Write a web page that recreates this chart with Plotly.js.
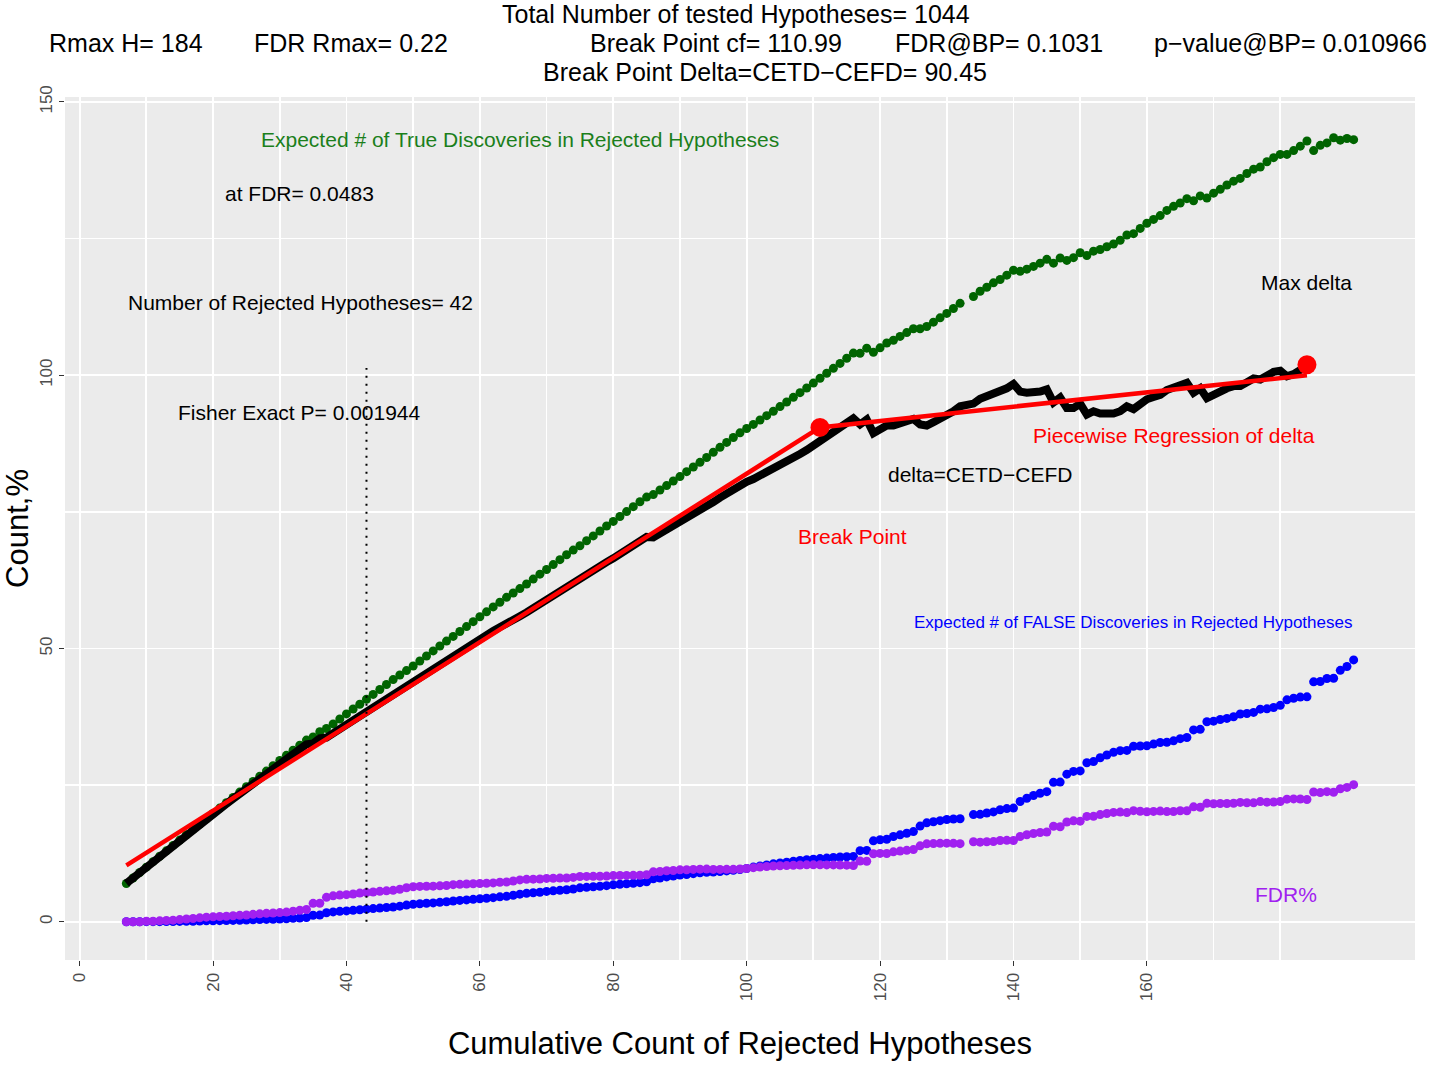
<!DOCTYPE html>
<html><head><meta charset="utf-8">
<script src="https://cdn.plot.ly/plotly-3.0.1.min.js"></script>
<style>html,body{margin:0;padding:0;background:#fff}</style>
</head><body><div id="chart" style="width:1429px;height:1065px"></div>
<script>
// Cumulative count of rejected hypotheses (x = 133 is absent in the source)
const rejectedCount = [
  7,8,9,10,11,12,13,14,15,16,17,18,19,20,21,22,23,24,25,26,
  27,28,29,30,31,32,33,34,35,36,37,38,39,40,41,42,43,44,45,46,
  47,48,49,50,51,52,53,54,55,56,57,58,59,60,61,62,63,64,65,66,
  67,68,69,70,71,72,73,74,75,76,77,78,79,80,81,82,83,84,85,86,
  87,88,89,90,91,92,93,94,95,96,97,98,99,100,101,102,103,104,105,106,
  107,108,109,110,111,112,113,114,115,116,117,118,119,120,121,122,123,124,125,126,
  127,128,129,130,131,132,134,135,136,137,138,139,140,141,142,143,144,145,146,147,
  148,149,150,151,152,153,154,155,156,157,158,159,160,161,162,163,164,165,166,167,
  168,169,170,171,172,173,174,175,176,177,178,179,180,181,182,183,184,185,186,187,
  188,189,190,191
];
// Expected # of true discoveries (CETD), green
const trueDisc = [
  7.0,8.0,9.0,9.99,10.99,11.98,12.97,13.96,14.94,15.92,
  16.9,17.87,18.84,19.82,20.8,21.78,22.75,23.72,24.69,25.65,
  26.61,27.57,28.54,29.5,30.45,31.38,32.31,33.24,33.82,34.78,
  35.35,36.2,37.1,38.02,38.92,39.8,40.7,41.6,42.5,43.4,
  44.3,45.15,45.95,46.8,47.7,48.62,49.55,50.45,51.35,52.2,
  53.1,54.0,54.9,55.8,56.7,57.6,58.45,59.35,60.15,60.95,
  61.8,62.7,63.6,64.45,65.35,66.25,67.15,68.0,68.8,69.7,
  70.6,71.5,72.4,73.25,74.15,75.05,75.95,76.85,77.7,78.15,
  79.0,79.8,80.65,81.45,82.35,83.2,84.05,84.95,85.9,86.8,
  87.7,88.6,89.45,90.25,91.0,91.8,92.6,93.4,94.25,95.1,
  95.95,96.8,97.65,98.55,99.45,100.35,101.25,102.15,103.1,104.05,
  104.0,104.95,104.2,105.0,105.9,106.4,107.1,107.8,108.5,108.5,
  108.9,109.7,110.5,111.3,112.2,113.15,
  114.4,115.35,116.1,116.9,117.5,118.3,119.2,119.0,119.4,119.9,
  120.5,121.2,120.5,121.45,121.0,121.5,122.4,121.9,122.7,123.0,
  123.5,124.0,124.7,125.65,125.9,126.85,127.8,128.5,129.2,130.15,
  130.9,131.5,132.3,131.9,132.8,132.4,133.3,134.0,134.8,135.5,
  136.0,136.9,137.7,138.1,139.05,139.8,140.4,140.4,141.1,141.9,
  142.85,141.1,142.05,142.5,143.45,143.0,143.3,143.1
];
// Expected # of false discoveries (CEFD), blue
const falseDisc = [
  0,0,0,0.01,0.01,0.02,0.03,0.04,0.06,0.08,
  0.10,0.13,0.16,0.18,0.20,0.22,0.25,0.28,0.31,0.35,
  0.39,0.43,0.46,0.50,0.55,0.62,0.69,0.76,1.18,1.22,
  1.65,1.80,1.90,1.98,2.08,2.20,2.30,2.40,2.50,2.60,
  2.70,2.85,3.05,3.20,3.30,3.38,3.45,3.55,3.65,3.80,
  3.90,4.00,4.10,4.20,4.30,4.40,4.55,4.65,4.85,5.05,
  5.20,5.30,5.40,5.55,5.65,5.75,5.85,6.00,6.20,6.30,
  6.40,6.50,6.60,6.75,6.85,6.95,7.05,7.15,7.30,7.85,
  8.00,8.20,8.35,8.55,8.65,8.80,8.95,9.05,9.10,9.20,
  9.30,9.40,9.55,9.75,10.00,10.20,10.40,10.60,10.75,10.90,
  11.05,11.20,11.35,11.45,11.55,11.65,11.75,11.85,11.90,11.95,
  13.00,13.05,14.80,15.00,15.10,15.60,15.90,16.20,16.50,17.50,
  18.10,18.30,18.50,18.70,18.80,18.85,
  19.60,19.65,19.90,20.10,20.50,20.70,20.80,22.00,22.60,23.10,
  23.50,23.80,25.50,25.55,27.00,27.50,27.60,29.10,29.30,30.00,
  30.50,31.00,31.30,31.35,32.10,32.15,32.20,32.50,32.80,32.85,
  33.10,33.50,33.70,35.10,35.20,36.60,36.70,37.00,37.20,37.50,
  38.00,38.10,38.30,38.90,38.95,39.20,39.60,40.60,40.90,41.10,
  41.15,43.90,43.95,44.50,44.55,46.00,46.70,47.90
];
// FDR in percent, purple
const fdrPercent = [
  0,0,0,0.10,0.09,0.17,0.23,0.29,0.40,0.50,
  0.59,0.72,0.84,0.90,0.95,1.00,1.09,1.17,1.24,1.35,
  1.44,1.54,1.59,1.67,1.77,1.94,2.09,2.24,3.37,3.39,
  4.46,4.74,4.87,4.95,5.07,5.24,5.35,5.45,5.56,5.65,
  5.74,5.94,6.22,6.40,6.47,6.50,6.51,6.57,6.64,6.79,
  6.84,6.90,6.95,7.00,7.05,7.10,7.22,7.27,7.46,7.65,
  7.76,7.79,7.83,7.93,7.96,7.99,8.01,8.11,8.27,8.29,
  8.31,8.33,8.35,8.44,8.46,8.48,8.49,8.51,8.59,9.13,
  9.20,9.32,9.38,9.50,9.51,9.57,9.62,9.63,9.58,9.58,
  9.59,9.59,9.65,9.75,9.90,10.00,10.10,10.19,10.24,10.28,
  10.33,10.37,10.41,10.41,10.41,10.40,10.40,10.39,10.35,10.30,
  11.11,11.06,12.44,12.50,12.48,12.79,12.93,13.06,13.20,13.89,
  14.25,14.30,14.34,14.38,14.35,14.28,
  14.63,14.56,14.63,14.67,14.86,14.89,14.86,15.60,15.92,16.15,
  16.32,16.41,17.47,17.38,18.24,18.46,18.40,19.27,19.28,19.61,
  19.81,20.00,20.06,19.97,20.32,20.22,20.13,20.19,20.25,20.15,
  20.18,20.30,20.30,21.02,20.95,21.66,21.59,21.64,21.63,21.68,
  21.84,21.77,21.76,21.98,21.88,21.90,22.00,22.43,22.47,22.46,
  22.36,23.73,23.63,23.80,23.70,24.34,24.58,25.08
];
// delta = CETD - CEFD (black), drawn up to x = 184
const deltaVals = [
  7.0,8.0,9.0,9.98,10.98,11.96,12.94,13.92,14.88,15.84,
  16.8,17.74,18.68,19.64,20.6,21.56,22.5,23.44,24.38,25.3,
  26.22,27.14,28.08,29.0,29.9,30.76,31.62,32.48,32.64,33.56,
  33.7,34.4,35.2,36.04,36.84,37.6,38.4,39.2,40.0,40.8,
  41.6,42.3,42.9,43.6,44.4,45.24,46.1,46.9,47.7,48.4,
  49.2,50.0,50.8,51.6,52.4,53.2,53.9,54.7,55.3,55.9,
  56.6,57.4,58.2,58.9,59.7,60.5,61.3,62.0,62.6,63.4,
  64.2,65.0,65.8,66.5,67.3,68.1,68.9,69.7,70.4,70.3,
  71.0,71.6,72.3,72.9,73.7,74.4,75.1,75.9,76.8,77.6,
  78.4,79.2,79.9,80.5,81.0,81.6,82.2,82.8,83.5,84.2,
  84.9,85.6,86.3,87.1,87.9,88.7,89.5,90.3,91.2,92.1,
  91.0,91.9,89.4,90.0,90.8,90.8,91.2,91.6,92.0,91.0,
  90.8,91.4,92.0,92.6,93.4,94.3,
  94.8,95.7,96.2,96.8,97.0,97.6,98.4,97.0,96.8,96.8,
  97.0,97.4,95.0,95.9,94.0,94.0,94.8,92.8,93.4,93.0,
  93.0,93.0,93.4,94.3,93.8,94.7,95.6,96.0,96.4,97.3,
  97.8,98.0,98.6,96.8,97.6,95.8,96.6,97.0,97.6,98.0,
  98.0,98.8,99.4,99.2,100.1,100.6,100.8,99.8,100.2,100.8,
  101.7
];
// Piecewise regression of delta (start, break point, end)
const pieceX = [7, 110.99, 184];
const pieceY = [10.3, 90.45, 100.0];
// Highlighted points: break point and max delta
const markX = [110.99, 184];
const markY = [90.45, 101.9];
// Vertical dotted marker at 43 rejections
const cutX = [43, 43];
const cutY = [0, 101.3];
// Axis ticks
const xTicks = [0,20,40,60,80,100,120,140,160];
const xMinor = [10,30,50,70,90,110,130,150,170,180];
const yTicks = [0,50,100,150];
const yMinor = [25,75,125];

const FONT = 'Liberation Sans, Arial, Helvetica, sans-serif';

const traces = [
  {x: rejectedCount, y: trueDisc, type:'scatter', mode:'markers',
   marker:{color:'#006400', size:9}, hoverinfo:'skip'},
  {x: rejectedCount, y: falseDisc, type:'scatter', mode:'markers',
   marker:{color:'#0000FF', size:9}, hoverinfo:'skip'},
  {x: rejectedCount, y: fdrPercent, type:'scatter', mode:'markers',
   marker:{color:'#A020F0', size:9}, hoverinfo:'skip'},
  {x: rejectedCount.slice(0, deltaVals.length), y: deltaVals, type:'scatter', mode:'lines',
   line:{color:'#000', width:8}, hoverinfo:'skip'},
  {x: pieceX, y: pieceY, type:'scatter', mode:'lines',
   line:{color:'#FF0000', width:4.5}, hoverinfo:'skip'},
  {x: markX, y: markY, type:'scatter', mode:'markers',
   marker:{color:'#FF0000', size:19}, hoverinfo:'skip'},
  {x: cutX, y: cutY, type:'scatter', mode:'lines',
   line:{color:'#000', width:2, dash:'2px,6px'}, hoverinfo:'skip'}
];

function noteAt(text, x, y, color, size) {
  return {text:text, x:x, y:y, xref:'x', yref:'y', showarrow:false,
          xanchor:'center', yanchor:'middle', font:{family:FONT, size:size||21, color:color||'#000'}};
}
const PH = 863, PL = 65, PW = 1350, PB = 960;
function headerNote(text, px, py, anchor) {
  return {text:text, x:(px-PL)/PW, y:(PB-py)/PH, xref:'paper', yref:'paper', showarrow:false,
          xanchor:anchor, yanchor:'middle', font:{family:FONT, size:25, color:'#000'}};
}

const layout = {
  width:1429, height:1065,
  margin:{l:65, r:14, t:97, b:105},
  paper_bgcolor:'#FFFFFF', plot_bgcolor:'#EBEBEB',
  font:{family:FONT, color:'#000'},
  showlegend:false,
  xaxis:{
    range:[-2.2, 200.2], tickmode:'array', tickvals:xTicks, ticktext:xTicks.map(String),
    tickangle:-90, ticks:'outside', ticklen:5, tickwidth:1, tickcolor:'#333333',
    tickfont:{family:FONT, size:17, color:'#4D4D4D'},
    showgrid:true, gridcolor:'#FFFFFF', gridwidth:1.8, zeroline:false, showline:false,
    minor:{tickmode:'array', tickvals:xMinor, showgrid:true, gridcolor:'#FFFFFF', gridwidth:1.8, ticks:''},
    title:{text:'Cumulative Count of Rejected Hypotheses', font:{family:FONT, size:31, color:'#000'}, standoff:32}
  },
  yaxis:{
    range:[-7.0, 150.9], tickmode:'array', tickvals:yTicks, ticktext:yTicks.map(String),
    tickangle:-90, ticks:'outside', ticklen:5, tickwidth:1, tickcolor:'#333333',
    tickfont:{family:FONT, size:17, color:'#4D4D4D'},
    showgrid:true, gridcolor:'#FFFFFF', gridwidth:1.8, zeroline:false, showline:false,
    minor:{tickmode:'array', tickvals:yMinor, showgrid:true, gridcolor:'#FFFFFF', gridwidth:1.8, ticks:''},
    title:{text:'Count,%', font:{family:FONT, size:31, color:'#000'}, standoff:6}
  },
  annotations:[
    headerNote('Total Number of tested Hypotheses= 1044', 736, 14, 'center'),
    headerNote('Rmax H= 184', 47, 43, 'left'),
    headerNote('FDR Rmax= 0.22', 252, 43, 'left'),
    headerNote('Break Point cf= 110.99', 588, 43, 'left'),
    headerNote('FDR@BP= 0.1031', 893, 43, 'left'),
    headerNote('p\u2212value@BP= 0.010966', 1152, 43, 'left'),
    headerNote('Break Point Delta=CETD\u2212CEFD= 90.45', 765, 72, 'center'),
    noteAt('Expected # of True Discoveries in Rejected Hypotheses', 66.0, 143.2, '#1B7F1B'),
    noteAt('at FDR= 0.0483', 32.9, 133.2),
    noteAt('Number of Rejected Hypotheses= 42', 33.1, 113.3),
    noteAt('Fisher Exact P= 0.001944', 32.9, 93.2),
    noteAt('Max delta', 184.0, 117.0),
    noteAt('Piecewise Regression of delta', 164.0, 88.9, '#FF0000'),
    noteAt('delta=CETD\u2212CEFD', 135.0, 81.9),
    noteAt('Break Point', 115.9, 70.4, '#FF0000'),
    noteAt('Expected # of FALSE Discoveries in Rejected Hypotheses', 157.9, 54.7, '#0000FF', 17),
    noteAt('FDR%', 180.9, 4.9, '#A020F0')
  ]
};

Plotly.newPlot('chart', traces, layout, {staticPlot:true, displayModeBar:false});
</script>
</body></html>
